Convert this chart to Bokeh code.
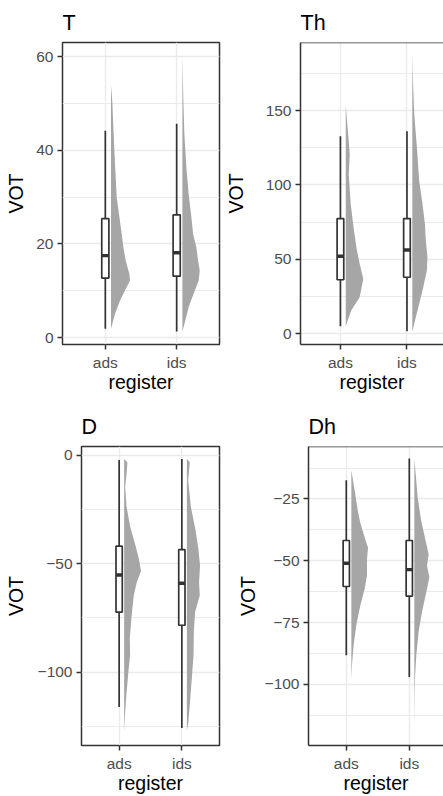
from bokeh.plotting import figure
from bokeh.layouts import column, row
from bokeh.models import Range1d, FixedTicker, Span
from bokeh.embed import file_html
from bokeh.resources import INLINE

# ---------------- data ----------------
registers = ["ads", "ids"]
register_pos = [1, 2]

# boxplot stats per register: lower whisker, Q1, median, Q3, upper whisker
T_ads_box = [1.9, 12.7, 17.5, 25.4, 44.2]
T_ids_box = [1.3, 13.1, 18.1, 26.2, 45.7]
Th_ads_box = [4.9, 36.2, 52.0, 77.4, 132.8]
Th_ids_box = [1.5, 37.9, 56.2, 77.4, 136.1]
D_ads_box = [-116.1, -72.3, -55.2, -41.9, -2.1]
D_ids_box = [-125.8, -78.4, -59.0, -43.5, -1.7]
Dh_ads_box = [-88.2, -60.4, -51.0, -41.8, -17.4]
Dh_ids_box = [-97.0, -64.3, -53.6, -41.8, -8.7]

# half-violin profiles: VOT value and half-width (register units)
T_ads_vot = [54.0, 50.4, 44.0, 38.0, 29.9, 22.1, 19.3, 16.4, 13.6, 12.2, 10.8, 7.9, 5.1, 1.9]
T_ads_dens = [0, .018, .035, .053, .080, .150, .173, .206, .257, .266, .220, .126, .056, 0]
T_ids_vot = [60.4, 50.4, 43.4, 36.3, 30.6, 26.3, 22.1, 19.3, 16.4, 14.3, 12.2, 9.4, 6.5, 3.7, 1.3]
T_ids_dens = [0, .014, .028, .056, .088, .122, .150, .196, .220, .243, .229, .158, .088, .042, 0]

Th_ads_vot = [153.6, 129.5, 120.5, 107.1, 87.1, 69.2, 58.0, 46.9, 36.8, 24.5, 15.6, 8.9, 4.9]
Th_ads_dens = [0, .045, .060, .045, .075, .124, .160, .209, .264, .209, .085, .030, 0]
Th_ids_vot = [187.5, 169.6, 147.3, 125.0, 102.7, 87.1, 73.7, 62.5, 51.3, 42.4, 29.0, 15.6, 6.7, 1.1]
Th_ids_dens = [0, .010, .030, .070, .104, .154, .190, .204, .228, .219, .154, .079, .030, 0]

D_ads_vot = [-1.7, -3.2, -8.5, -14.6, -23.7, -32.8, -42.0, -48.0, -53.4, -58.6, -64.7, -75.4,
             -84.5, -92.1, -99.7, -111.9, -121.0, -127.8]
D_ads_dens = [0, .052, .039, .016, .039, .095, .185, .237, .269, .201, .153, .115,
              .090, .095, .068, .032, .011, 0]
D_ids_vot = [-1.7, -3.2, -11.5, -23.7, -34.3, -43.5, -51.1, -58.6, -64.7, -72.3, -81.4,
             -92.1, -102.7, -114.9, -124.0, -127.0]
D_ids_dens = [0, .047, .021, .063, .137, .185, .210, .194, .205, .131, .111,
              .106, .079, .047, .021, 0]

Dh_ads_vot = [-13.4, -21.4, -29.4, -34.7, -41.4, -44.7, -49.4, -56.0, -61.4, -68.0, -76.0,
              -84.0, -92.0, -98.0]
Dh_ads_dens = [0, .052, .100, .143, .222, .265, .249, .249, .211, .143, .079, .037, .011, 0]
Dh_ids_vot = [-8.7, -14.7, -24.1, -33.4, -41.4, -47.4, -52.0, -56.7, -62.7, -70.7, -78.7,
              -88.0, -97.3, -105.3, -118.6]
Dh_ids_dens = [0, .021, .052, .106, .175, .227, .202, .238, .190, .122, .068,
               .032, .011, .005, 0]

# y axis ranges and ticks
T_yrange = [-1.49, 63.04]
Th_yrange = [-7.37, 195.9]
D_yrange = [-133.9, 4.1]
Dh_yrange = [-124.7, -3.8]

T_major = [0, 20, 40, 60]
T_minor = [10, 30, 50]
Th_major = [0, 50, 100, 150]
Th_minor = [25, 75, 125, 175]
D_major = [-100, -50, 0]
D_minor = [-125, -75, -25]
Dh_major = [-100, -75, -50, -25]
Dh_minor = [-112.5, -87.5, -62.5, -37.5, -12.5]

# ---------------- style ----------------
FONT = "Liberation Sans"
DARK = "#333333"
GRID = "#EBEBEB"
VIOLIN = "#A6A6A6"
BOX_HALF = 0.05
NUDGE = 0.08


def make_panel(title, width, height, xr, yr, major, minor, box_list, vot_list, dens_list,
               left, right, top, bottom, label_standoff, full_border):
    p = figure(width=width, height=height, output_backend="svg", toolbar_location=None,
               x_range=Range1d(*xr), y_range=Range1d(*yr),
               min_border_left=left, min_border_right=right,
               min_border_top=top, min_border_bottom=bottom)
    p.title.text = title
    p.title.text_font = FONT
    p.title.text_font_size = "21.5px"
    p.title.text_font_style = "normal"
    p.title.text_color = "black"
    p.title.align = "left"
    p.title.standoff = 16
    p.background_fill_color = "white"
    p.border_fill_color = "white"

    p.xaxis.ticker = FixedTicker(ticks=register_pos)
    p.xaxis.major_label_overrides = {pos: lab for pos, lab in zip(register_pos, registers)}
    p.yaxis.ticker = FixedTicker(ticks=major, minor_ticks=minor)
    p.yaxis.major_label_overrides = {t: str(t).replace("-", "\u2212") for t in major}
    p.xaxis.axis_label = "register"
    p.yaxis.axis_label = "VOT"
    for ax in (p.xaxis[0], p.yaxis[0]):
        ax.axis_label_text_font = FONT
        ax.axis_label_text_font_size = "19.5px"
        ax.axis_label_text_font_style = "normal"
        ax.axis_label_text_color = "black"
        ax.major_label_text_font = FONT
        ax.major_label_text_font_size = "15.5px"
        ax.major_label_text_color = "#4D4D4D"
        ax.major_tick_line_color = DARK
        ax.major_tick_line_width = 1.5
        ax.major_tick_out = 5
        ax.major_tick_in = 0
        ax.minor_tick_line_color = None
        ax.major_label_standoff = 4
    p.yaxis.axis_label_standoff = label_standoff
    p.xaxis.axis_label_standoff = -3

    p.xgrid.grid_line_color = GRID
    p.xgrid.grid_line_width = 1.4
    p.ygrid.grid_line_color = GRID
    p.ygrid.grid_line_width = 1.4
    p.ygrid.minor_grid_line_color = GRID
    p.ygrid.minor_grid_line_width = 1.0

    if full_border:
        p.outline_line_color = DARK
        p.outline_line_width = 1.5
        p.outline_line_alpha = 1.0
        p.xaxis.axis_line_color = None
        p.yaxis.axis_line_color = None
    else:
        p.outline_line_color = None
        p.xaxis.axis_line_color = DARK
        p.xaxis.axis_line_width = 1.5
        p.yaxis.axis_line_color = DARK
        p.yaxis.axis_line_width = 1.5
        p.add_layout(Span(location=yr[1], dimension="width", line_color=DARK, line_width=1.5))

    for pos, box, vot, dens in zip(register_pos, box_list, vot_list, dens_list):
        base = pos + NUDGE
        xs = [base + d for d in dens] + [base, base]
        ys = list(vot) + [vot[-1], vot[0]]
        p.patch(xs, ys, fill_color=VIOLIN, line_color=None)
        lo, q1, med, q3, hi = box
        p.segment(x0=[pos, pos], y0=[lo, q3], x1=[pos, pos], y1=[q1, hi],
                  line_color=DARK, line_width=1.7)
        p.quad(left=[pos - BOX_HALF], right=[pos + BOX_HALF], bottom=[q1], top=[q3],
               fill_color="white", line_color=DARK, line_width=1.7)
        p.segment(x0=[pos - BOX_HALF], x1=[pos + BOX_HALF], y0=[med], y1=[med],
                  line_color=DARK, line_width=3.4)
    return p


p1 = make_panel("T", 221, 404, (0.4, 2.6), T_yrange, T_major, T_minor,
                [T_ads_box, T_ids_box], [T_ads_vot, T_ids_vot], [T_ads_dens, T_ids_dens],
                62, 2, 41, 60, 6, True)
p2 = make_panel("Th", 222, 404, (0.4, 2.549), Th_yrange, Th_major, Th_minor,
                [Th_ads_box, Th_ids_box], [Th_ads_vot, Th_ids_vot], [Th_ads_dens, Th_ids_dens],
                78, 0, 41, 60, 16, False)
p3 = make_panel("D", 221, 392, (0.4, 2.6), D_yrange, D_major, D_minor,
                [D_ads_box, D_ids_box], [D_ads_vot, D_ids_vot], [D_ads_dens, D_ids_dens],
                81, 2, 41, 50, 8, True)
p4 = make_panel("Dh", 222, 392, (0.4, 2.543), Dh_yrange, Dh_major, Dh_minor,
                [Dh_ads_box, Dh_ids_box], [Dh_ads_vot, Dh_ids_vot], [Dh_ads_dens, Dh_ids_dens],
                87, 0, 41, 50, 3, False)

layout = column(row(p1, p2), row(p3, p4))
open("out.html", "w").write(file_html(layout, INLINE))
